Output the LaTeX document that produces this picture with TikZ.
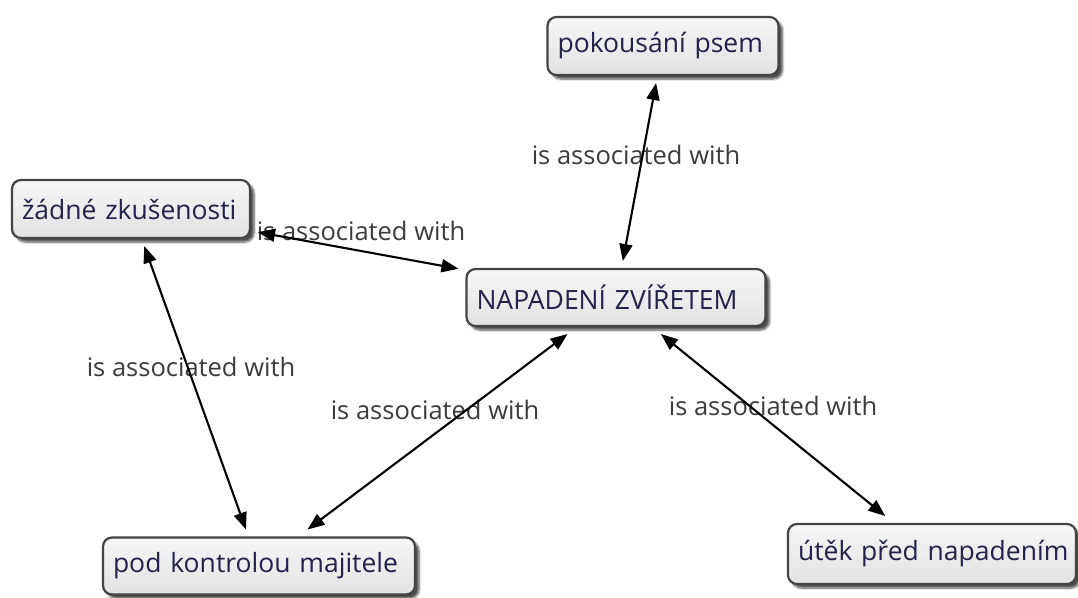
\documentclass[tikz,border=0pt]{standalone}
\usepackage{fontspec}
\setmainfont{Open Sans}
\usetikzlibrary{arrows.meta,shadows.blur}

\definecolor{boxline}{HTML}{444444}
\definecolor{boxtop}{HTML}{F6F6F6}
\definecolor{boxbot}{HTML}{E2E2E2}
\definecolor{boxtext}{HTML}{22224A}
\definecolor{linktext}{HTML}{3C3C3C}

\begin{document}
\begin{tikzpicture}[x=1pt, y=-1pt,
  concept/.style={draw=boxline, line width=2.2pt, rounded corners=9pt,
    top color=boxtop, bottom color=boxbot,
    blur shadow={shadow xshift=4pt, shadow yshift=-4pt, shadow blur steps=6, shadow opacity=70},
    font=\fontsize{26.5}{30}\selectfont, text=boxtext,
    inner xsep=10pt, inner ysep=0pt, align=left, outer sep=8pt},
  linklabel/.style={font=\fontsize{25.5}{29}\selectfont, text=linktext, inner sep=0pt},
  assoc/.style={line width=2.1pt, black, {Triangle[length=17pt,width=13pt]}-{Triangle[length=17pt,width=13pt]}}
]
\useasboundingbox (0,0) rectangle (1078,597);

% concepts (one line each, left aligned inside a fixed box)
\node[concept, text width=211pt, minimum height=58pt] (bite) at (663,46) {\mbox{pokousání psem}};
\node[concept, text width=218pt, minimum height=58pt] (noexp) at (131,209) {\mbox{žádné zkušenosti}};
\node[concept, text width=279pt, minimum height=57pt] (attack) at (616,297.5) {\mbox{NAPADENÍ ZVÍŘETEM}};
\node[concept, text width=292pt, minimum height=57pt] (owner) at (259,566) {\mbox{pod kontrolou majitele}};
\node[concept, text width=268pt, minimum height=60pt] (escape) at (932,554) {\mbox{útěk před napadením}};

% link labels
\node[linklabel] (l1) at (636,155) {is associated with};
\node[linklabel] (l2) at (361,231) {is associated with};
\node[linklabel] (l3) at (191,367) {is associated with};
\node[linklabel] (l4) at (435,410) {is associated with};
\node[linklabel] (l5) at (773,406) {is associated with};

% associations
\draw[assoc] (bite) -- (attack);
\draw[assoc] (noexp) -- (attack);
\draw[assoc] (noexp) -- (owner);
\draw[assoc] (attack) -- (owner);
\draw[assoc] (attack) -- (escape);
\end{tikzpicture}
\end{document}
